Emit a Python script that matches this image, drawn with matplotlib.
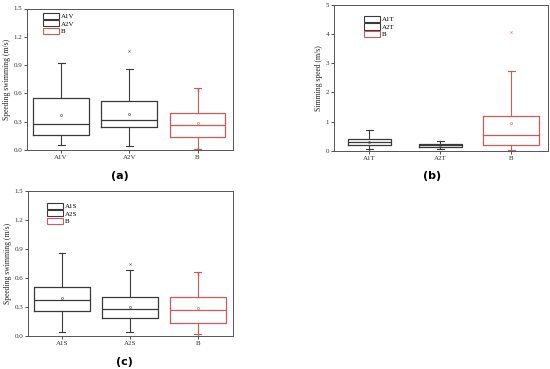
import matplotlib
matplotlib.use("Agg")
import matplotlib.pyplot as plt
from matplotlib.patches import Patch

plt.rcParams["font.family"] = ["Liberation Serif", "DejaVu Serif"]

GREY = "#3a3a3a"
RED = "#d05a5a"

# ---- panel (a) ----
a_labels = ["A1V", "A2V", "B"]
a_whislo = [0.057, 0.039, 0.010]
a_q1 = [0.156, 0.245, 0.137]
a_med = [0.280, 0.316, 0.262]
a_q3 = [0.553, 0.520, 0.395]
a_whishi = [0.918, 0.855, 0.661]
a_mean = [0.369, 0.379, 0.285]
a_fliers = [[], [1.053], [0.640, 0.015]]

# ---- panel (b) ----
b_labels = ["A1T", "A2T", "B"]
b_whislo = [0.06, 0.07, 0.02]
b_q1 = [0.18, 0.13, 0.18]
b_med = [0.30, 0.20, 0.54]
b_q3 = [0.39, 0.23, 1.20]
b_whishi = [0.71, 0.34, 2.73]
b_mean = [0.31, 0.19, 0.94]
b_fliers = [[0.02], [], [4.08]]

# ---- panel (c) ----
c_labels = ["A1S", "A2S", "B"]
c_whislo = [0.045, 0.045, 0.017]
c_q1 = [0.259, 0.183, 0.138]
c_med = [0.369, 0.276, 0.269]
c_q3 = [0.510, 0.400, 0.400]
c_whishi = [0.862, 0.683, 0.662]
c_mean = [0.397, 0.303, 0.293]
c_fliers = [[], [0.748], [0.638, 0.015]]


def draw_panel(ax, labels, whislo, q1, med, q3, whishi, mean, fliers,
               widths, ylim, yticks, yfmt, ylabel, leg_anchor):
    colors = [GREY, GREY, RED]
    for i in range(3):
        st = dict(whislo=whislo[i], q1=q1[i], med=med[i], q3=q3[i],
                  whishi=whishi[i], mean=mean[i], fliers=fliers[i])
        c = colors[i]
        ax.bxp([st], positions=[i + 1], widths=widths[i], capwidths=0.1,
               showmeans=True, showfliers=True,
               boxprops=dict(color=c, linewidth=0.9),
               medianprops=dict(color=c, linewidth=0.9),
               whiskerprops=dict(color=c, linewidth=0.8),
               capprops=dict(color=c, linewidth=0.8),
               meanprops=dict(marker="s", markersize=1.2, markerfacecolor="none",
                              markeredgecolor=c, markeredgewidth=0.4),
               flierprops=dict(marker="x", markersize=1.6, markeredgecolor=c,
                               markeredgewidth=0.4, alpha=0.8))
    ax.set_xlim(0.5, 3.52)
    ax.set_ylim(*ylim)
    ax.set_yticks(yticks)
    ax.set_yticklabels([yfmt.format(v) for v in yticks])
    ax.set_xticks([1, 2, 3])
    ax.set_xticklabels(labels)
    ax.tick_params(labelsize=5, length=2, width=0.6, pad=1.5, colors="#333333")
    ax.set_ylabel(ylabel, fontsize=5.5, labelpad=2, color="#222222")
    for s in ax.spines.values():
        s.set_linewidth(0.7)
        s.set_color("#555555")
    handles = [Patch(facecolor="white", edgecolor=col, linewidth=0.8, label=l)
               for col, l in zip(colors, labels)]
    ax.legend(handles=handles, loc="upper left", bbox_to_anchor=leg_anchor,
              frameon=False, fontsize=5, handlelength=2.3, handleheight=1.0,
              labelspacing=0.15, handletextpad=0.3, borderaxespad=0,
              borderpad=0)


fig = plt.figure(figsize=(5.5, 3.69), dpi=100)

ax_a = fig.add_axes([27 / 550, 1 - 150 / 369, 206 / 550, 141.5 / 369])
draw_panel(ax_a, a_labels, a_whislo, a_q1, a_med, a_q3, a_whishi, a_mean,
           a_fliers, [0.82, 0.82, 0.82], (0, 1.5),
           [0.0, 0.3, 0.6, 0.9, 1.2, 1.5], "{:.1f}",
           "Speeding swimming (m/s)", (0.078, 0.97))

ax_b = fig.add_axes([334 / 550, 1 - 150.7 / 369, 214 / 550, 145.7 / 369])
draw_panel(ax_b, b_labels, b_whislo, b_q1, b_med, b_q3, b_whishi, b_mean,
           b_fliers, [0.6, 0.6, 0.8], (0, 5),
           [0, 1, 2, 3, 4, 5], "{:d}",
           "Simming speed (m/s)", (0.14, 0.925))

ax_c = fig.add_axes([28 / 550, 1 - 336 / 369, 205 / 550, 145 / 369])
draw_panel(ax_c, c_labels, c_whislo, c_q1, c_med, c_q3, c_whishi, c_mean,
           c_fliers, [0.82, 0.82, 0.82], (0, 1.5),
           [0.0, 0.3, 0.6, 0.9, 1.2, 1.5], "{:.1f}",
           "Speeding swimming (m/s)", (0.093, 0.92))

for txt, x, y in [("(a)", 120, 176), ("(b)", 432, 176), ("(c)", 124, 362)]:
    fig.text(x / 550, 1 - y / 369, txt, ha="center", va="center",
             fontsize=8, fontweight="bold", family=["DejaVu Sans"])

fig.savefig("out.png", dpi=100)
